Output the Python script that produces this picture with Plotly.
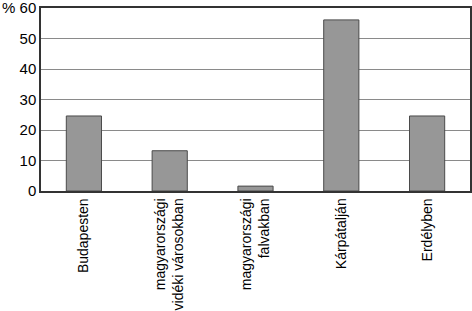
import plotly.graph_objects as go

categories = ["Budapesten", "magyarországi<br>vidéki városokban", "magyarországi<br>falvakban", "Kárpátalján", "Erdélyben"]
values = [24.6, 13.2, 1.6, 56.1, 24.6]
ytick_vals = [0, 10, 20, 30, 40, 50, 60]
ytick_text = ["0", "10", "20", "30", "40", "50", "% 60"]

fig = go.Figure(go.Bar(
    x=categories, y=values,
    marker=dict(color="#979797", line=dict(color="#4a4a4a", width=1)),
))
fig.update_layout(
    width=472, height=311,
    margin=dict(l=41, r=2, t=8, b=120),
    paper_bgcolor="white", plot_bgcolor="white",
    bargap=0.59,
    showlegend=False,
    font=dict(family="Liberation Sans, Arial, sans-serif", size=14, color="#000"),
)
fig.update_xaxes(
    tickangle=-90, showline=True, linecolor="#333", linewidth=1.5, mirror=True,
    ticks="", showgrid=False, tickfont=dict(size=14), automargin=False,
)
fig.update_yaxes(
    range=[0, 60], tickvals=ytick_vals, ticktext=ytick_text,
    showline=True, linecolor="#333", linewidth=1.5, mirror=True,
    showgrid=True, gridcolor="#8a8a8a", gridwidth=1, zeroline=False,
    ticks="", ticklen=0, tickfont=dict(size=15), ticklabeloverflow="allow",
    automargin=False,
)
fig.write_html("out.html")
